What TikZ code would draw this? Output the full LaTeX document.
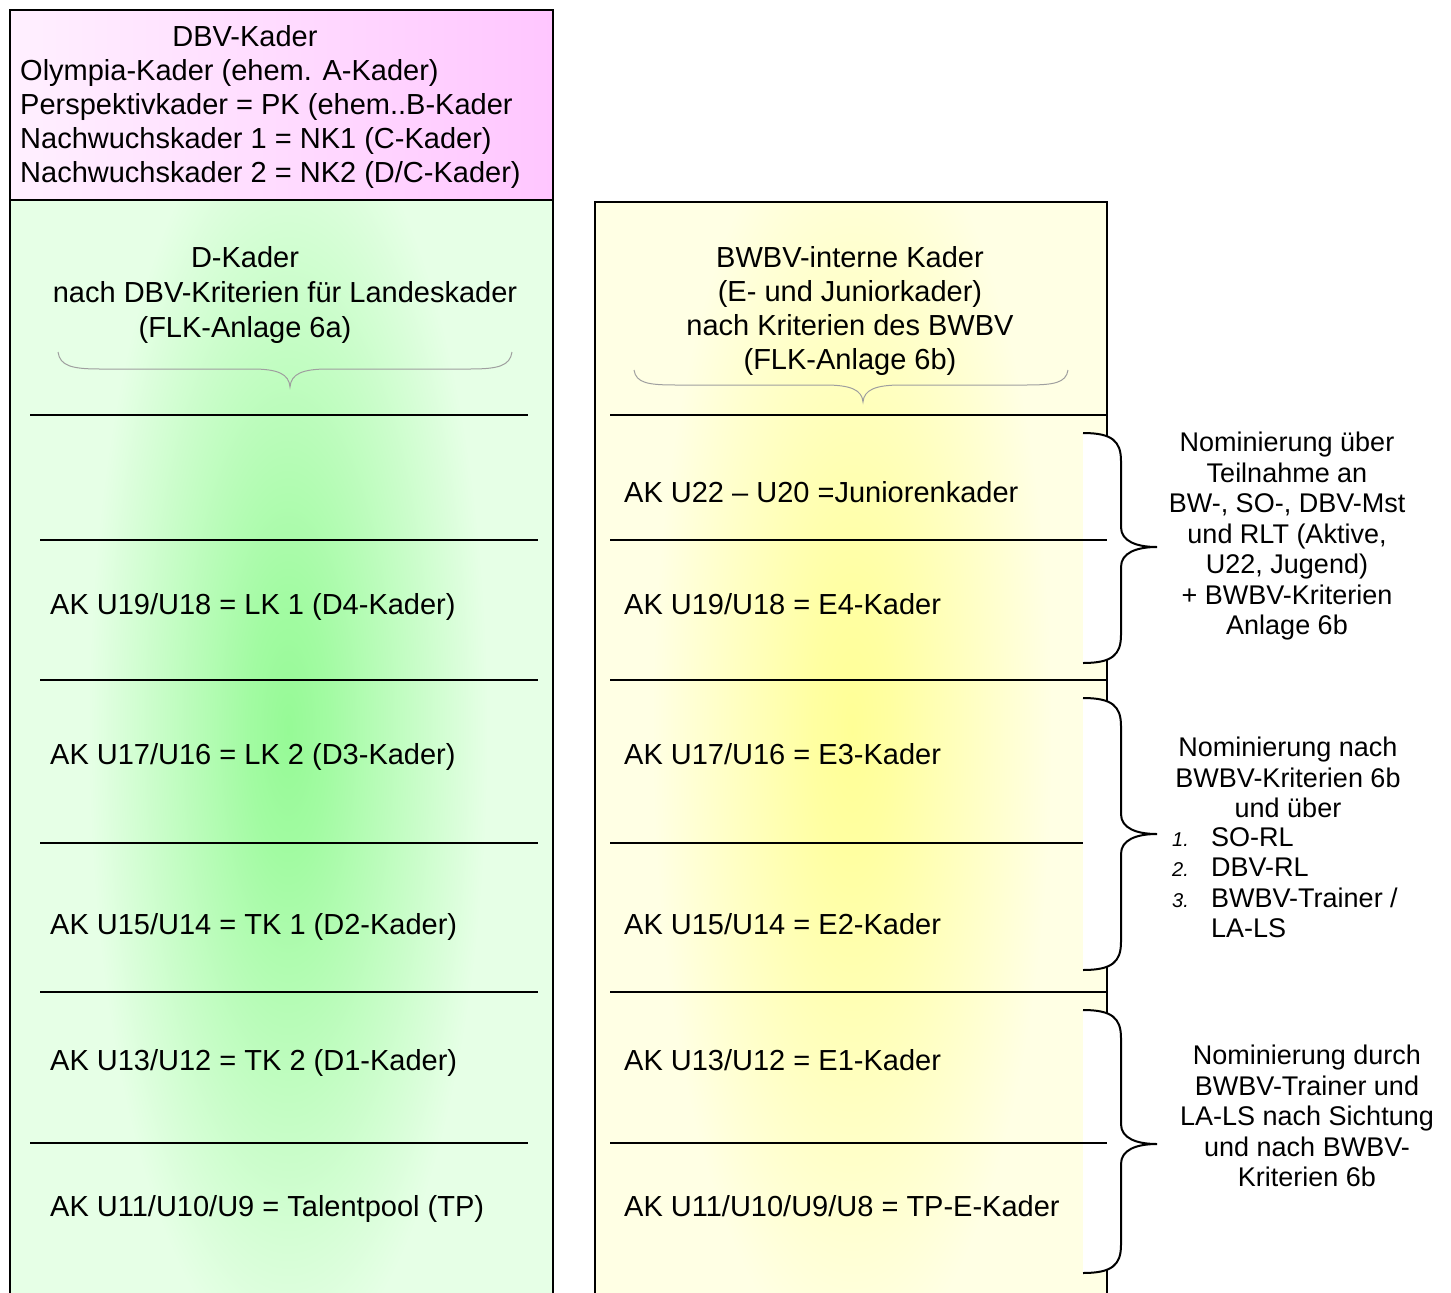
\documentclass[tikz,border=0pt]{standalone}
\usepackage{fontspec}
\setmainfont{Liberation Sans}
\definecolor{pinkL}{HTML}{FFF0FF}
\definecolor{pinkR}{HTML}{FFC6FF}
\definecolor{greenBase}{HTML}{E6FFE6}
\definecolor{greenGlow}{HTML}{96FA96}
\colorlet{greenMid}{greenGlow!85!greenBase}
\definecolor{yelBase}{HTML}{FFFFE4}
\definecolor{yelGlow}{HTML}{FFFF96}
\colorlet{yelMid}{yelGlow!85!yelBase}
\pgfdeclareradialshading{greenglow}{\pgfpoint{0bp}{0bp}}{color(0bp)=(greenGlow); color(5bp)=(greenMid); color(25bp)=(greenBase); color(50bp)=(greenBase)}
\pgfdeclareradialshading{yelglow}{\pgfpoint{0bp}{0bp}}{color(0bp)=(yelGlow); color(5bp)=(yelMid); color(25bp)=(yelBase); color(50bp)=(yelBase)}
\newcommand\mainsz{\fontsize{29}{34}\selectfont}
\newcommand\sidesz{\fontsize{27}{30.5}\selectfont}
\newcommand\numsz{\fontsize{20}{24}\selectfont\itshape}
\newcommand\sidebrace[3]{%
  \draw[rbrace, fill=white] (1083,#1) .. controls (1112,#1) and (1121,{#1+8}) .. (1121,{#1+28})
    -- (1121,{#2-20}) .. controls (1121,{#2-6}) and (1136,#2) .. (1157,#2)
    .. controls (1136,#2) and (1121,{#2+6}) .. (1121,{#2+20})
    -- (1121,{#3-28}) .. controls (1121,{#3-8}) and (1112,#3) .. (1083,#3);}
\begin{document}
\begin{tikzpicture}[x=1pt,y=-1pt,
  main/.style={font=\mainsz, inner sep=0pt},
  side/.style={font=\sidesz, inner sep=0pt, align=center},
  num/.style={font=\numsz, inner sep=0pt, anchor=base west},
  item/.style={font=\sidesz, inner sep=0pt, anchor=base west},
  sep/.style={line width=2pt},
  border/.style={line width=2.5pt},
  hbrace/.style={draw=gray!75, line width=1pt},
  rbrace/.style={line width=2pt}]
\useasboundingbox (0,0) rectangle (1451,1293);
\clip (0,0) rectangle (1451,1293);
% backgrounds
\shade[left color=pinkL, right color=pinkR] (10,10) rectangle (553,200);
\fill[greenBase] (10,200) rectangle (553,1300);
\begin{scope}
  \clip (10,200) rectangle (553,1300);
  \shade[shading=greenglow] (288,730) ellipse [x radius=200, y radius=640];
\end{scope}
\fill[yelBase] (595,202) rectangle (1107,1300);
\begin{scope}
  \clip (595,202) rectangle (1107,1300);
  \shade[shading=yelglow] (852,730) ellipse [x radius=200, y radius=640];
\end{scope}
% borders
\draw[border] (10,1300) -- (10,10) -- (553,10) -- (553,1300);
\draw[border] (10,200) -- (553,200);
\draw[border] (595,1300) -- (595,202) -- (1107,202) -- (1107,1300);
% header braces
\draw[hbrace] (58,352) .. controls (60,366) and (72,369) .. (100,369) -- (252,369)
  .. controls (278,369) and (289,374) .. (290,387)
  .. controls (291,374) and (302,369) .. (328,369) -- (470,369)
  .. controls (498,369) and (510,366) .. (512,352);
\draw[hbrace] (634,370) .. controls (636,383) and (648,385) .. (676,385) -- (825,385)
  .. controls (851,385) and (862,390) .. (863,402)
  .. controls (864,390) and (875,385) .. (901,385) -- (1026,385)
  .. controls (1054,385) and (1066,383) .. (1068,370);
% left separators
\draw[sep] (30,415) -- (528,415);
\draw[sep] (40,540) -- (538,540);
\draw[sep] (40,680) -- (538,680);
\draw[sep] (40,843) -- (538,843);
\draw[sep] (40,992) -- (538,992);
\draw[sep] (30,1143) -- (528,1143);
% right separators
\draw[sep] (610,415) -- (1107,415);
\draw[sep] (610,680) -- (1107,680);
\draw[sep] (610,843) -- (1083,843);
\draw[sep] (610,992) -- (1107,992);
% side braces
\sidebrace{433}{547}{663}
\sidebrace{698}{834}{970}
\sidebrace{1010}{1144}{1273}
\draw[sep] (610,540) -- (1107,540);
\draw[sep] (610,1143) -- (1107,1143);
% DBV box
\node[main, anchor=base] (dbvtitle) at (245,46) {DBV-Kader};
\node[main, align=left, anchor=north west] (dbvlist) at (20,59.2)
  {Olympia-Kader (ehem. A-Kader)\\Perspektivkader = PK (ehem..B-Kader\\Nachwuchskader 1 = NK1 (C-Kader)\\Nachwuchskader 2 = NK2 (D/C-Kader)};
% D-Kader header
\node[main, anchor=base] (dtitle) at (245,267) {D-Kader};
\node[main, anchor=base] (dsub1) at (285,302) {nach DBV-Kriterien für Landeskader};
\node[main, anchor=base] (dsub2) at (245,337) {(FLK-Anlage 6a)};
% BWBV header
\node[main, align=center, anchor=north] (etitle) at (850,246)
  {BWBV-interne Kader\\(E- und Juniorkader)\\nach Kriterien des BWBV\\(FLK-Anlage 6b)};
% left rows
\node[main, anchor=base west] (d4) at (50,614.5) {AK U19/U18 = LK 1 (D4-Kader)};
\node[main, anchor=base west] (d3) at (50,764.5) {AK U17/U16 = LK 2 (D3-Kader)};
\node[main, anchor=base west] (d2) at (50,934.5) {AK U15/U14 = TK 1 (D2-Kader)};
\node[main, anchor=base west] (d1) at (50,1070.5) {AK U13/U12 = TK 2 (D1-Kader)};
\node[main, anchor=base west] (tp) at (50,1216.5) {AK U11/U10/U9 = Talentpool (TP)};
% right rows
\node[main, anchor=base west] (jk) at (624,502.5) {AK U22 – U20 =Juniorenkader};
\node[main, anchor=base west] (e4) at (624,614.5) {AK U19/U18 = E4-Kader};
\node[main, anchor=base west] (e3) at (624,764.5) {AK U17/U16 = E3-Kader};
\node[main, anchor=base west] (e2) at (624,934.5) {AK U15/U14 = E2-Kader};
\node[main, anchor=base west] (e1) at (624,1070.5) {AK U13/U12 = E1-Kader};
\node[main, anchor=base west] (tpe) at (624,1216.5) {AK U11/U10/U9/U8 = TP-E-Kader};
% side notes
\node[side, anchor=north] (nom1) at (1287,432)
  {Nominierung über\\Teilnahme an\\BW-, SO-, DBV-Mst\\und RLT (Aktive,\\U22, Jugend)\\+ BWBV-Kriterien\\Anlage 6b};
\node[side, anchor=north] (nom2) at (1288,737)
  {Nominierung nach\\BWBV-Kriterien 6b\\und über};
\node[num] (n1) at (1172,846.5) {1.};
\node[num] (n2) at (1172,876.5) {2.};
\node[num] (n3) at (1172,907) {3.};
\node[item] (i1) at (1211,846.5) {SO-RL};
\node[item] (i2) at (1211,876.5) {DBV-RL};
\node[item] (i3) at (1211,907) {BWBV-Trainer /};
\node[item] (i3b) at (1211,937.5) {LA-LS};
\node[side, anchor=north] (nom3) at (1307,1045)
  {Nominierung durch\\BWBV-Trainer und\\LA-LS nach Sichtung\\und nach BWBV-\\Kriterien 6b};
\end{tikzpicture}
\end{document}
